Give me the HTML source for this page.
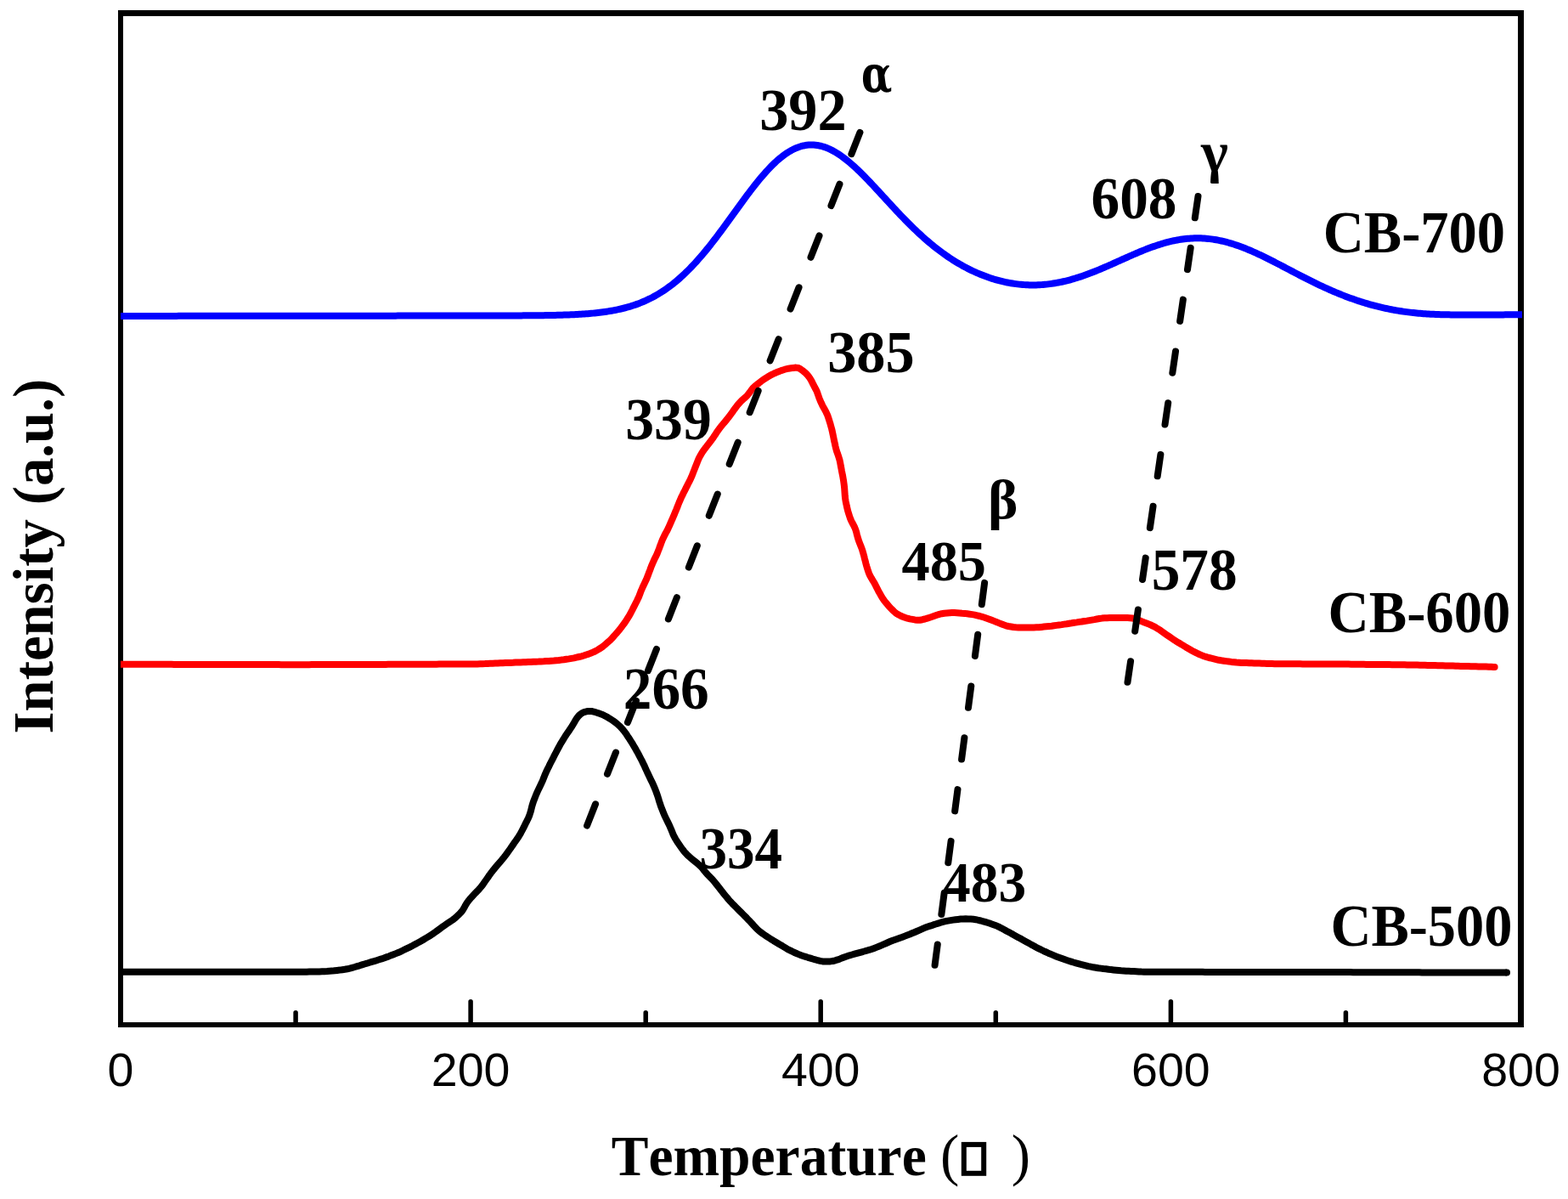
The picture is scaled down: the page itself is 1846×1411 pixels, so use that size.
<!DOCTYPE html>
<html><head><meta charset="utf-8"><title>TPR chart</title>
<style>
html,body{margin:0;padding:0;background:#fff;overflow:hidden;}
svg{display:block;}
text{font-family:"Liberation Serif","Times New Roman",serif;font-kerning:none;fill:#000;}
.sans{font-family:"Liberation Sans",Arial,sans-serif;}
</style></head><body>
<svg width="1846" height="1411" viewBox="0 0 1846 1411">
<rect x="0" y="0" width="1846" height="1411" fill="#fff"/>
<g fill="#000">
<rect x="139" y="12" width="6" height="1197"/>
<rect x="1787" y="12" width="7" height="1197"/>
<rect x="139" y="12" width="1655" height="7"/>
<rect x="139" y="1203" width="1655" height="6"/>
</g>
<g stroke="#000" stroke-width="5.5" stroke-linecap="round"><line x1="348.1" y1="1204" x2="348.1" y2="1191.75"/><line x1="554.1" y1="1204" x2="554.1" y2="1178.75"/><line x1="760.2" y1="1204" x2="760.2" y2="1191.75"/><line x1="966.2" y1="1204" x2="966.2" y2="1178.75"/><line x1="1172.3" y1="1204" x2="1172.3" y2="1191.75"/><line x1="1378.4" y1="1204" x2="1378.4" y2="1178.75"/><line x1="1584.4" y1="1204" x2="1584.4" y2="1191.75"/></g>
<text class="sans" x="142.0" y="1277.6" text-anchor="middle" font-size="55.5">0</text><text class="sans" x="554.1" y="1277.6" text-anchor="middle" font-size="55.5">200</text><text class="sans" x="966.2" y="1277.6" text-anchor="middle" font-size="55.5">400</text><text class="sans" x="1378.4" y="1277.6" text-anchor="middle" font-size="55.5">600</text><text class="sans" x="1790.5" y="1277.6" text-anchor="middle" font-size="55.5">800</text>
<path d="M142.0,371.94 L144.0,371.94 L146.0,371.94 L148.0,371.93 L150.0,371.93 L152.0,371.93 L154.0,371.93 L156.0,371.93 L158.0,371.92 L160.0,371.92 L162.0,371.92 L164.0,371.92 L166.0,371.92 L168.0,371.91 L170.0,371.91 L172.0,371.91 L174.0,371.91 L176.0,371.91 L178.0,371.90 L180.0,371.90 L182.0,371.90 L184.0,371.90 L186.0,371.90 L188.0,371.89 L190.0,371.89 L192.0,371.89 L194.0,371.89 L196.0,371.89 L198.0,371.88 L200.0,371.88 L202.0,371.88 L204.0,371.88 L206.0,371.88 L208.0,371.88 L210.0,371.87 L212.0,371.87 L214.0,371.87 L216.0,371.87 L218.0,371.87 L220.0,371.86 L222.0,371.86 L224.0,371.86 L226.0,371.86 L228.0,371.86 L230.0,371.85 L232.0,371.85 L234.0,371.85 L236.0,371.85 L238.0,371.85 L240.0,371.84 L242.0,371.84 L244.0,371.84 L246.0,371.84 L248.0,371.84 L250.0,371.83 L252.0,371.83 L254.0,371.83 L256.0,371.83 L258.0,371.83 L260.0,371.83 L262.0,371.82 L264.0,371.82 L266.0,371.82 L268.0,371.82 L270.0,371.82 L272.0,371.81 L274.0,371.81 L276.0,371.81 L278.0,371.81 L280.0,371.81 L282.0,371.80 L284.0,371.80 L286.0,371.80 L288.0,371.80 L290.0,371.80 L292.0,371.79 L294.0,371.79 L296.0,371.79 L298.0,371.79 L300.0,371.79 L302.0,371.78 L304.0,371.78 L306.0,371.78 L308.0,371.78 L310.0,371.78 L312.0,371.78 L314.0,371.77 L316.0,371.77 L318.0,371.77 L320.0,371.77 L322.0,371.77 L324.0,371.76 L326.0,371.76 L328.0,371.76 L330.0,371.76 L332.0,371.76 L334.0,371.75 L336.0,371.75 L338.0,371.75 L340.0,371.75 L342.0,371.75 L344.0,371.74 L346.0,371.74 L348.0,371.74 L350.0,371.74 L352.0,371.74 L354.0,371.73 L356.0,371.73 L358.0,371.73 L360.0,371.73 L362.0,371.73 L364.0,371.72 L366.0,371.72 L368.0,371.72 L370.0,371.72 L372.0,371.72 L374.0,371.72 L376.0,371.71 L378.0,371.71 L380.0,371.71 L382.0,371.71 L384.0,371.71 L386.0,371.70 L388.0,371.70 L390.0,371.70 L392.0,371.70 L394.0,371.70 L396.0,371.69 L398.0,371.69 L400.0,371.69 L402.0,371.69 L404.0,371.69 L406.0,371.68 L408.0,371.68 L410.0,371.68 L412.0,371.68 L414.0,371.68 L416.0,371.67 L418.0,371.67 L420.0,371.67 L422.0,371.67 L424.0,371.67 L426.0,371.67 L428.0,371.66 L430.0,371.66 L432.0,371.66 L434.0,371.66 L436.0,371.66 L438.0,371.65 L440.0,371.65 L442.0,371.65 L444.0,371.65 L446.0,371.65 L448.0,371.64 L450.0,371.64 L452.0,371.64 L454.0,371.64 L456.0,371.64 L458.0,371.63 L460.0,371.63 L462.0,371.63 L464.0,371.63 L466.0,371.63 L468.0,371.62 L470.0,371.62 L472.0,371.62 L474.0,371.62 L476.0,371.62 L478.0,371.61 L480.0,371.61 L482.0,371.61 L484.0,371.61 L486.0,371.61 L488.0,371.61 L490.0,371.60 L492.0,371.60 L494.0,371.60 L496.0,371.60 L498.0,371.60 L500.0,371.59 L502.0,371.59 L504.0,371.59 L506.0,371.59 L508.0,371.59 L510.0,371.58 L512.0,371.58 L514.0,371.58 L516.0,371.58 L518.0,371.58 L520.0,371.57 L522.0,371.57 L524.0,371.57 L526.0,371.57 L528.0,371.57 L530.0,371.56 L532.0,371.56 L534.0,371.56 L536.0,371.56 L538.0,371.55 L540.0,371.55 L542.0,371.55 L544.0,371.55 L546.0,371.55 L548.0,371.54 L550.0,371.54 L552.0,371.54 L554.0,371.54 L556.0,371.53 L558.0,371.53 L560.0,371.53 L562.0,371.52 L564.0,371.52 L566.0,371.52 L568.0,371.52 L570.0,371.51 L572.0,371.51 L574.0,371.51 L576.0,371.50 L578.0,371.50 L580.0,371.49 L582.0,371.49 L584.0,371.49 L586.0,371.48 L588.0,371.48 L590.0,371.47 L592.0,371.47 L594.0,371.46 L596.0,371.45 L598.0,371.45 L600.0,371.44 L602.0,371.43 L604.0,371.43 L606.0,371.42 L608.0,371.41 L610.0,371.40 L612.0,371.39 L614.0,371.38 L616.0,371.37 L618.0,371.36 L620.0,371.34 L622.0,371.33 L624.0,371.31 L626.0,371.30 L628.0,371.28 L630.0,371.26 L632.0,371.24 L634.0,371.22 L636.0,371.20 L638.0,371.17 L640.0,371.14 L642.0,371.12 L644.0,371.08 L646.0,371.05 L648.0,371.02 L650.0,370.98 L652.0,370.94 L654.0,370.89 L656.0,370.85 L658.0,370.79 L660.0,370.74 L662.0,370.68 L664.0,370.62 L666.0,370.55 L668.0,370.48 L670.0,370.41 L672.0,370.33 L674.0,370.24 L676.0,370.15 L678.0,370.05 L680.0,369.94 L682.0,369.83 L684.0,369.71 L686.0,369.58 L688.0,369.45 L690.0,369.30 L692.0,369.15 L694.0,368.99 L696.0,368.81 L698.0,368.63 L700.0,368.43 L702.0,368.23 L704.0,368.01 L706.0,367.78 L708.0,367.53 L710.0,367.27 L712.0,366.99 L714.0,366.70 L716.0,366.39 L718.0,366.07 L720.0,365.73 L722.0,365.37 L724.0,364.99 L726.0,364.58 L728.0,364.16 L730.0,363.72 L732.0,363.25 L734.0,362.76 L736.0,362.25 L738.0,361.71 L740.0,361.14 L742.0,360.55 L744.0,359.93 L746.0,359.28 L748.0,358.60 L750.0,357.89 L752.0,357.14 L754.0,356.37 L756.0,355.56 L758.0,354.71 L760.0,353.84 L762.0,352.92 L764.0,351.97 L766.0,350.98 L768.0,349.95 L770.0,348.88 L772.0,347.77 L774.0,346.62 L776.0,345.43 L778.0,344.19 L780.0,342.91 L782.0,341.59 L784.0,340.22 L786.0,338.81 L788.0,337.35 L790.0,335.85 L792.0,334.30 L794.0,332.70 L796.0,331.06 L798.0,329.37 L800.0,327.63 L802.0,325.85 L804.0,324.01 L806.0,322.14 L808.0,320.21 L810.0,318.24 L812.0,316.22 L814.0,314.16 L816.0,312.05 L818.0,309.90 L820.0,307.70 L822.0,305.46 L824.0,303.18 L826.0,300.86 L828.0,298.49 L830.0,296.09 L832.0,293.66 L834.0,291.18 L836.0,288.68 L838.0,286.14 L840.0,283.57 L842.0,280.97 L844.0,278.34 L846.0,275.69 L848.0,273.02 L850.0,270.33 L852.0,267.61 L854.0,264.89 L856.0,262.15 L858.0,259.39 L860.0,256.64 L862.0,253.87 L864.0,251.10 L866.0,248.34 L868.0,245.57 L870.0,242.81 L872.0,240.06 L874.0,237.33 L876.0,234.61 L878.0,231.90 L880.0,229.22 L882.0,226.56 L884.0,223.93 L886.0,221.33 L888.0,218.77 L890.0,216.24 L892.0,213.75 L894.0,211.31 L896.0,208.91 L898.0,206.56 L900.0,204.27 L902.0,202.03 L904.0,199.84 L906.0,197.72 L908.0,195.66 L910.0,193.67 L912.0,191.75 L914.0,189.89 L916.0,188.11 L918.0,186.41 L920.0,184.79 L922.0,183.24 L924.0,181.77 L926.0,180.39 L928.0,179.10 L930.0,177.89 L932.0,176.77 L934.0,175.73 L936.0,174.79 L938.0,173.94 L940.0,173.18 L942.0,172.51 L944.0,171.94 L946.0,171.45 L948.0,171.07 L950.0,170.77 L952.0,170.57 L954.0,170.46 L956.0,170.45 L958.0,170.52 L960.0,170.69 L962.0,170.95 L964.0,171.30 L966.0,171.73 L968.0,172.25 L970.0,172.86 L972.0,173.56 L974.0,174.33 L976.0,175.19 L978.0,176.12 L980.0,177.13 L982.0,178.22 L984.0,179.38 L986.0,180.61 L988.0,181.91 L990.0,183.28 L992.0,184.71 L994.0,186.20 L996.0,187.75 L998.0,189.35 L1000.0,191.01 L1002.0,192.72 L1004.0,194.48 L1006.0,196.28 L1008.0,198.13 L1010.0,200.02 L1012.0,201.94 L1014.0,203.90 L1016.0,205.89 L1018.0,207.91 L1020.0,209.96 L1022.0,212.03 L1024.0,214.13 L1026.0,216.24 L1028.0,218.37 L1030.0,220.51 L1032.0,222.67 L1034.0,224.83 L1036.0,227.01 L1038.0,229.18 L1040.0,231.36 L1042.0,233.54 L1044.0,235.72 L1046.0,237.90 L1048.0,240.07 L1050.0,242.23 L1052.0,244.39 L1054.0,246.53 L1056.0,248.66 L1058.0,250.78 L1060.0,252.89 L1062.0,254.97 L1064.0,257.04 L1066.0,259.10 L1068.0,261.13 L1070.0,263.14 L1072.0,265.13 L1074.0,267.09 L1076.0,269.03 L1078.0,270.95 L1080.0,272.84 L1082.0,274.71 L1084.0,276.55 L1086.0,278.36 L1088.0,280.15 L1090.0,281.90 L1092.0,283.63 L1094.0,285.33 L1096.0,287.01 L1098.0,288.65 L1100.0,290.26 L1102.0,291.84 L1104.0,293.40 L1106.0,294.92 L1108.0,296.42 L1110.0,297.88 L1112.0,299.32 L1114.0,300.72 L1116.0,302.10 L1118.0,303.45 L1120.0,304.76 L1122.0,306.05 L1124.0,307.31 L1126.0,308.54 L1128.0,309.74 L1130.0,310.91 L1132.0,312.05 L1134.0,313.17 L1136.0,314.25 L1138.0,315.31 L1140.0,316.34 L1142.0,317.34 L1144.0,318.31 L1146.0,319.26 L1148.0,320.17 L1150.0,321.07 L1152.0,321.93 L1154.0,322.76 L1156.0,323.57 L1158.0,324.35 L1160.0,325.11 L1162.0,325.84 L1164.0,326.54 L1166.0,327.21 L1168.0,327.86 L1170.0,328.48 L1172.0,329.07 L1174.0,329.64 L1176.0,330.18 L1178.0,330.70 L1180.0,331.19 L1182.0,331.65 L1184.0,332.09 L1186.0,332.50 L1188.0,332.88 L1190.0,333.23 L1192.0,333.56 L1194.0,333.87 L1196.0,334.15 L1198.0,334.40 L1200.0,334.62 L1202.0,334.82 L1204.0,334.99 L1206.0,335.13 L1208.0,335.25 L1210.0,335.34 L1212.0,335.41 L1214.0,335.45 L1216.0,335.46 L1218.0,335.45 L1220.0,335.41 L1222.0,335.34 L1224.0,335.25 L1226.0,335.13 L1228.0,334.98 L1230.0,334.81 L1232.0,334.62 L1234.0,334.39 L1236.0,334.15 L1238.0,333.87 L1240.0,333.57 L1242.0,333.25 L1244.0,332.90 L1246.0,332.53 L1248.0,332.14 L1250.0,331.72 L1252.0,331.27 L1254.0,330.81 L1256.0,330.32 L1258.0,329.81 L1260.0,329.27 L1262.0,328.72 L1264.0,328.14 L1266.0,327.54 L1268.0,326.92 L1270.0,326.29 L1272.0,325.63 L1274.0,324.96 L1276.0,324.26 L1278.0,323.55 L1280.0,322.82 L1282.0,322.08 L1284.0,321.32 L1286.0,320.55 L1288.0,319.76 L1290.0,318.96 L1292.0,318.15 L1294.0,317.32 L1296.0,316.49 L1298.0,315.64 L1300.0,314.78 L1302.0,313.92 L1304.0,313.05 L1306.0,312.17 L1308.0,311.29 L1310.0,310.40 L1312.0,309.51 L1314.0,308.61 L1316.0,307.71 L1318.0,306.81 L1320.0,305.91 L1322.0,305.02 L1324.0,304.12 L1326.0,303.23 L1328.0,302.34 L1330.0,301.45 L1332.0,300.57 L1334.0,299.70 L1336.0,298.84 L1338.0,297.98 L1340.0,297.13 L1342.0,296.30 L1344.0,295.48 L1346.0,294.66 L1348.0,293.87 L1350.0,293.08 L1352.0,292.32 L1354.0,291.57 L1356.0,290.83 L1358.0,290.12 L1360.0,289.42 L1362.0,288.75 L1364.0,288.09 L1366.0,287.46 L1368.0,286.85 L1370.0,286.26 L1372.0,285.69 L1374.0,285.15 L1376.0,284.64 L1378.0,284.15 L1380.0,283.69 L1382.0,283.26 L1384.0,282.85 L1386.0,282.47 L1388.0,282.12 L1390.0,281.80 L1392.0,281.51 L1394.0,281.25 L1396.0,281.02 L1398.0,280.82 L1400.0,280.65 L1402.0,280.52 L1404.0,280.41 L1406.0,280.34 L1408.0,280.30 L1410.0,280.29 L1412.0,280.31 L1414.0,280.37 L1416.0,280.45 L1418.0,280.57 L1420.0,280.72 L1422.0,280.91 L1424.0,281.12 L1426.0,281.37 L1428.0,281.65 L1430.0,281.96 L1432.0,282.30 L1434.0,282.67 L1436.0,283.07 L1438.0,283.50 L1440.0,283.95 L1442.0,284.44 L1444.0,284.96 L1446.0,285.50 L1448.0,286.07 L1450.0,286.67 L1452.0,287.29 L1454.0,287.94 L1456.0,288.62 L1458.0,289.31 L1460.0,290.04 L1462.0,290.78 L1464.0,291.55 L1466.0,292.33 L1468.0,293.14 L1470.0,293.97 L1472.0,294.81 L1474.0,295.68 L1476.0,296.56 L1478.0,297.46 L1480.0,298.37 L1482.0,299.30 L1484.0,300.24 L1486.0,301.19 L1488.0,302.16 L1490.0,303.14 L1492.0,304.13 L1494.0,305.13 L1496.0,306.13 L1498.0,307.15 L1500.0,308.17 L1502.0,309.20 L1504.0,310.23 L1506.0,311.27 L1508.0,312.32 L1510.0,313.36 L1512.0,314.41 L1514.0,315.46 L1516.0,316.51 L1518.0,317.56 L1520.0,318.61 L1522.0,319.66 L1524.0,320.70 L1526.0,321.75 L1528.0,322.79 L1530.0,323.82 L1532.0,324.86 L1534.0,325.88 L1536.0,326.91 L1538.0,327.92 L1540.0,328.93 L1542.0,329.93 L1544.0,330.92 L1546.0,331.91 L1548.0,332.89 L1550.0,333.86 L1552.0,334.82 L1554.0,335.77 L1556.0,336.70 L1558.0,337.63 L1560.0,338.55 L1562.0,339.46 L1564.0,340.36 L1566.0,341.24 L1568.0,342.11 L1570.0,342.98 L1572.0,343.83 L1574.0,344.66 L1576.0,345.49 L1578.0,346.30 L1580.0,347.10 L1582.0,347.88 L1584.0,348.66 L1586.0,349.42 L1588.0,350.16 L1590.0,350.89 L1592.0,351.61 L1594.0,352.32 L1596.0,353.01 L1598.0,353.69 L1600.0,354.35 L1602.0,355.00 L1604.0,355.64 L1606.0,356.26 L1608.0,356.87 L1610.0,357.46 L1612.0,358.04 L1614.0,358.60 L1616.0,359.15 L1618.0,359.69 L1620.0,360.21 L1622.0,360.71 L1624.0,361.21 L1626.0,361.68 L1628.0,362.15 L1630.0,362.60 L1632.0,363.03 L1634.0,363.45 L1636.0,363.86 L1638.0,364.25 L1640.0,364.62 L1642.0,364.99 L1644.0,365.34 L1646.0,365.67 L1648.0,365.99 L1650.0,366.30 L1652.0,366.59 L1654.0,366.87 L1656.0,367.14 L1658.0,367.40 L1660.0,367.64 L1662.0,367.87 L1664.0,368.09 L1666.0,368.29 L1668.0,368.48 L1670.0,368.67 L1672.0,368.84 L1674.0,369.00 L1676.0,369.15 L1678.0,369.29 L1680.0,369.42 L1682.0,369.54 L1684.0,369.65 L1686.0,369.75 L1688.0,369.84 L1690.0,369.93 L1692.0,370.01 L1694.0,370.08 L1696.0,370.14 L1698.0,370.20 L1700.0,370.25 L1702.0,370.30 L1704.0,370.34 L1706.0,370.37 L1708.0,370.40 L1710.0,370.43 L1712.0,370.45 L1714.0,370.47 L1716.0,370.48 L1718.0,370.50 L1720.0,370.50 L1722.0,370.51 L1724.0,370.52 L1726.0,370.52 L1728.0,370.52 L1730.0,370.52 L1732.0,370.51 L1734.0,370.51 L1736.0,370.50 L1738.0,370.50 L1740.0,370.49 L1742.0,370.48 L1744.0,370.48 L1746.0,370.47 L1748.0,370.46 L1750.0,370.45 L1752.0,370.44 L1754.0,370.43 L1756.0,370.43 L1758.0,370.42 L1760.0,370.41 L1762.0,370.40 L1764.0,370.40 L1766.0,370.39 L1768.0,370.38 L1770.0,370.38 L1772.0,370.37 L1774.0,370.36 L1776.0,370.36 L1778.0,370.35 L1780.0,370.35 L1782.0,370.34 L1784.0,370.34 L1786.0,370.34 L1788.0,370.33 L1790.0,370.33 L1792.0,370.33" fill="none" stroke="#0000ff" stroke-width="8" stroke-linejoin="round"/>
<path d="M142.0,781.7 L145.0,781.7 L148.0,781.7 L151.0,781.7 L154.0,781.7 L157.0,781.7 L160.0,781.7 L163.0,781.8 L166.0,781.8 L169.0,781.8 L172.0,781.8 L175.0,781.8 L178.0,781.8 L181.0,781.8 L184.0,781.8 L187.0,781.8 L190.0,781.8 L193.0,781.8 L196.0,781.8 L199.0,781.8 L202.0,781.8 L205.0,781.9 L208.0,781.9 L211.0,781.9 L214.0,781.9 L217.0,781.9 L220.0,781.9 L223.0,781.9 L226.0,781.9 L229.0,781.9 L232.0,781.9 L235.0,781.9 L238.0,781.9 L241.0,781.9 L244.0,781.9 L247.0,782.0 L250.0,782.0 L253.0,782.0 L256.0,782.0 L259.0,782.0 L262.0,782.0 L265.0,782.0 L268.0,782.0 L271.0,782.0 L274.0,782.0 L277.0,782.0 L280.0,782.0 L283.0,782.0 L286.0,782.0 L289.0,782.1 L292.0,782.1 L295.0,782.1 L298.0,782.1 L301.0,782.1 L304.0,782.1 L307.0,782.1 L310.0,782.1 L313.0,782.1 L316.0,782.1 L319.0,782.1 L322.0,782.1 L325.0,782.1 L328.0,782.1 L331.0,782.2 L334.0,782.2 L337.0,782.2 L340.0,782.2 L343.0,782.2 L346.0,782.2 L349.0,782.2 L352.0,782.2 L355.0,782.2 L358.0,782.2 L361.0,782.2 L364.0,782.2 L367.0,782.1 L370.0,782.1 L373.0,782.1 L376.0,782.1 L379.0,782.1 L382.0,782.1 L385.0,782.1 L388.0,782.1 L391.0,782.1 L394.0,782.1 L397.0,782.0 L400.0,782.0 L403.0,782.0 L406.0,782.0 L409.0,782.0 L412.0,782.0 L415.0,782.0 L418.0,782.0 L421.0,782.0 L424.0,782.0 L427.0,781.9 L430.0,781.9 L433.0,781.9 L436.0,781.9 L439.0,781.9 L442.0,781.9 L445.0,781.9 L448.0,781.9 L451.0,781.9 L454.0,781.9 L457.0,781.8 L460.0,781.8 L463.0,781.8 L466.0,781.8 L469.0,781.8 L472.0,781.8 L475.0,781.8 L478.0,781.8 L481.0,781.8 L484.0,781.8 L487.0,781.7 L490.0,781.7 L493.0,781.7 L496.0,781.7 L499.0,781.7 L502.0,781.7 L505.0,781.7 L508.0,781.7 L511.0,781.7 L514.0,781.7 L517.0,781.6 L520.0,781.6 L523.1,781.6 L526.1,781.6 L529.1,781.6 L532.1,781.6 L535.1,781.6 L538.1,781.6 L541.1,781.6 L544.1,781.6 L547.1,781.5 L550.1,781.5 L553.1,781.5 L556.1,781.5 L559.1,781.5 L562.1,781.4 L565.1,781.3 L568.0,781.2 L571.0,781.1 L574.0,780.9 L577.0,780.8 L580.0,780.7 L583.0,780.6 L586.0,780.5 L589.0,780.3 L592.0,780.2 L595.0,780.1 L598.0,780.0 L601.0,779.9 L604.0,779.8 L607.0,779.6 L610.0,779.5 L613.0,779.4 L616.0,779.3 L619.0,779.2 L622.0,779.1 L625.0,779.0 L628.0,778.8 L631.0,778.7 L634.0,778.6 L637.0,778.4 L640.0,778.3 L643.0,778.1 L646.0,778.0 L649.0,777.8 L652.0,777.6 L655.0,777.3 L657.9,777.0 L660.9,776.6 L663.9,776.3 L666.9,775.8 L669.8,775.4 L672.8,774.9 L675.8,774.4 L678.7,773.7 L681.6,773.0 L684.5,772.3 L687.4,771.5 L690.2,770.5 L693.1,769.6 L695.9,768.5 L698.7,767.4 L701.3,766.1 L703.9,764.6 L706.5,763.0 L709.0,761.4 L711.3,759.5 L713.6,757.6 L715.9,755.6 L718.1,753.6 L720.2,751.5 L722.2,749.3 L724.2,747.0 L726.2,744.8 L728.1,742.5 L730.0,740.2 L731.8,737.8 L733.6,735.4 L735.4,733.0 L737.1,730.5 L738.7,727.9 L740.3,725.4 L741.8,722.8 L743.2,720.2 L744.6,717.5 L745.9,714.8 L747.3,712.1 L748.6,709.5 L750.0,706.8 L751.3,704.1 L752.5,701.3 L753.6,698.5 L754.6,695.7 L755.8,693.0 L757.0,690.2 L758.3,687.5 L759.6,684.8 L760.9,682.1 L762.0,679.3 L763.1,676.5 L764.1,673.7 L765.2,670.9 L766.2,668.1 L767.3,665.3 L768.5,662.5 L769.7,659.8 L771.0,657.1 L772.3,654.4 L773.6,651.7 L774.7,648.9 L775.8,646.1 L776.8,643.3 L777.9,640.5 L778.9,637.7 L780.0,634.9 L781.3,632.2 L782.6,629.5 L784.0,626.9 L785.5,624.2 L786.8,621.5 L788.0,618.8 L789.2,616.1 L790.4,613.3 L791.7,610.6 L792.8,607.8 L794.0,605.1 L795.1,602.3 L796.3,599.5 L797.4,596.7 L798.5,593.9 L799.6,591.1 L800.8,588.4 L802.0,585.6 L803.3,582.9 L804.6,580.2 L806.0,577.6 L807.3,574.9 L808.7,572.2 L810.0,569.5 L811.4,566.8 L812.7,564.2 L814.0,561.4 L815.1,558.7 L816.2,555.9 L817.3,553.1 L818.4,550.3 L819.5,547.5 L820.6,544.7 L821.7,541.9 L822.9,539.2 L824.3,536.5 L825.8,533.9 L827.4,531.4 L829.1,529.0 L831.0,526.6 L832.8,524.2 L834.6,521.8 L836.4,519.5 L838.2,517.1 L840.0,514.6 L841.7,512.1 L843.3,509.6 L845.0,507.1 L846.7,504.7 L848.5,502.3 L850.4,500.0 L852.4,497.7 L854.3,495.4 L856.2,493.0 L858.0,490.7 L859.8,488.3 L861.6,485.9 L863.3,483.4 L865.1,481.0 L866.9,478.6 L868.7,476.2 L870.7,474.0 L872.8,471.8 L875.0,469.8 L877.2,467.9 L879.4,465.8 L881.3,463.5 L883.1,461.1 L884.8,458.7 L886.7,456.4 L888.9,454.4 L891.2,452.5 L893.6,450.7 L896.0,448.8 L898.4,447.1 L900.9,445.4 L903.4,443.8 L906.0,442.3 L908.6,440.8 L911.3,439.5 L914.0,438.3 L916.8,437.2 L919.6,436.1 L922.5,435.2 L925.3,434.3 L928.2,433.7 L931.2,433.3 L934.1,432.9 L937.0,432.6 L939.7,433.0 L942.3,434.2 L944.7,435.9 L947.0,437.8 L949.2,439.8 L951.2,442.0 L953.0,444.4 L954.6,446.9 L956.0,449.5 L957.3,452.2 L958.7,454.9 L960.1,457.5 L961.5,460.1 L962.5,462.9 L963.5,465.8 L964.5,468.6 L965.6,471.4 L966.8,474.1 L968.1,476.8 L969.5,479.5 L971.0,482.1 L972.4,484.7 L973.7,487.4 L974.8,490.2 L975.7,493.0 L976.6,495.9 L977.5,498.8 L978.3,501.7 L979.1,504.5 L979.8,507.5 L980.4,510.4 L981.0,513.3 L981.6,516.3 L982.2,519.2 L982.9,522.1 L983.5,525.1 L984.2,528.0 L985.0,530.9 L986.0,533.7 L987.0,536.5 L987.9,539.4 L988.7,542.2 L989.3,545.2 L989.8,548.1 L990.4,551.1 L990.9,554.0 L991.5,557.0 L992.1,559.9 L992.6,562.9 L993.1,565.8 L993.5,568.8 L993.9,571.8 L994.2,574.8 L994.4,577.7 L994.6,580.7 L994.8,583.7 L995.1,586.7 L995.6,589.7 L996.2,592.6 L996.8,595.5 L997.5,598.5 L998.2,601.4 L999.1,604.2 L1000.0,607.1 L1000.9,609.9 L1002.1,612.7 L1003.4,615.3 L1004.9,618.0 L1006.2,620.6 L1007.3,623.4 L1008.2,626.3 L1008.9,629.2 L1009.7,632.1 L1010.5,634.9 L1011.5,637.8 L1012.6,640.5 L1013.7,643.3 L1014.8,646.1 L1015.7,649.0 L1016.5,651.9 L1017.3,654.8 L1018.0,657.7 L1018.8,660.6 L1019.5,663.5 L1020.3,666.4 L1021.2,669.3 L1022.1,672.1 L1023.1,674.9 L1024.3,677.6 L1025.8,680.2 L1027.4,682.8 L1028.9,685.3 L1030.4,688.0 L1031.7,690.6 L1033.1,693.3 L1034.4,696.0 L1035.9,698.6 L1037.4,701.2 L1038.9,703.8 L1040.6,706.3 L1042.4,708.6 L1044.4,710.9 L1046.3,713.2 L1048.4,715.4 L1050.4,717.5 L1052.6,719.6 L1054.8,721.6 L1057.3,723.2 L1059.9,724.5 L1062.7,725.7 L1065.5,726.8 L1068.3,727.7 L1071.2,728.4 L1074.2,728.9 L1077.1,729.4 L1080.1,729.7 L1083.0,729.7 L1085.9,729.2 L1088.8,728.5 L1091.7,727.6 L1094.5,726.7 L1097.4,725.8 L1100.2,724.8 L1103.0,723.8 L1105.9,722.9 L1108.8,722.2 L1111.7,721.7 L1114.7,721.5 L1117.7,721.3 L1120.7,721.1 L1123.7,721.1 L1126.7,721.2 L1129.7,721.4 L1132.7,721.7 L1135.6,721.9 L1138.6,722.3 L1141.6,722.7 L1144.6,723.1 L1147.5,723.6 L1150.4,724.3 L1153.3,725.0 L1156.2,725.8 L1159.1,726.7 L1161.9,727.7 L1164.7,728.7 L1167.5,729.8 L1170.3,730.9 L1173.1,732.0 L1175.9,733.1 L1178.7,734.2 L1181.5,735.3 L1184.3,736.3 L1187.2,737.0 L1190.2,737.5 L1193.1,738.0 L1196.1,738.3 L1199.1,738.5 L1202.1,738.6 L1205.1,738.6 L1208.1,738.6 L1211.1,738.6 L1214.1,738.5 L1217.1,738.4 L1220.1,738.3 L1223.1,738.2 L1226.1,737.9 L1229.0,737.6 L1232.0,737.3 L1235.0,737.0 L1238.0,736.7 L1241.0,736.3 L1243.9,735.9 L1246.9,735.5 L1249.9,735.1 L1252.8,734.6 L1255.8,734.2 L1258.8,733.7 L1261.7,733.3 L1264.7,732.8 L1267.7,732.4 L1270.6,731.9 L1273.6,731.5 L1276.6,731.0 L1279.5,730.6 L1282.5,730.1 L1285.5,729.6 L1288.4,729.1 L1291.4,728.5 L1294.3,728.0 L1297.3,727.6 L1300.3,727.3 L1303.3,727.2 L1306.3,727.1 L1309.2,727.0 L1312.2,727.0 L1315.3,727.0 L1318.3,727.0 L1321.3,727.0 L1324.3,727.0 L1327.3,727.1 L1330.2,727.2 L1333.2,727.5 L1336.1,728.1 L1338.9,729.2 L1341.6,730.3 L1344.4,731.4 L1347.2,732.5 L1350.0,733.5 L1352.8,734.6 L1355.6,735.8 L1358.2,737.1 L1360.9,738.6 L1363.4,740.1 L1366.0,741.7 L1368.4,743.4 L1370.9,745.2 L1373.3,746.9 L1375.8,748.6 L1378.2,750.3 L1380.7,752.0 L1383.2,753.7 L1385.8,755.3 L1388.3,756.8 L1390.9,758.4 L1393.5,759.9 L1396.0,761.5 L1398.6,763.0 L1401.2,764.5 L1403.8,766.0 L1406.5,767.4 L1409.1,768.7 L1411.9,770.0 L1414.6,771.1 L1417.4,772.2 L1420.3,773.1 L1423.2,774.0 L1426.1,774.7 L1429.0,775.4 L1431.9,776.1 L1434.8,776.8 L1437.8,777.3 L1440.7,777.7 L1443.7,778.1 L1446.7,778.5 L1449.7,778.9 L1452.7,779.2 L1455.6,779.5 L1458.6,779.7 L1461.6,779.9 L1464.6,780.0 L1467.6,780.1 L1470.6,780.2 L1473.6,780.3 L1476.6,780.4 L1479.6,780.5 L1482.6,780.6 L1485.6,780.7 L1488.6,780.8 L1491.6,780.9 L1494.6,781.0 L1497.6,781.1 L1500.6,781.2 L1503.6,781.2 L1506.6,781.2 L1509.6,781.2 L1512.6,781.3 L1515.6,781.3 L1518.6,781.3 L1521.6,781.3 L1524.6,781.3 L1527.6,781.3 L1530.6,781.3 L1533.6,781.4 L1536.6,781.4 L1539.6,781.4 L1542.6,781.4 L1545.6,781.4 L1548.6,781.4 L1551.6,781.4 L1554.6,781.5 L1557.6,781.5 L1560.6,781.5 L1563.6,781.5 L1566.6,781.5 L1569.6,781.5 L1572.6,781.5 L1575.6,781.6 L1578.6,781.6 L1581.6,781.6 L1584.6,781.6 L1587.6,781.6 L1590.6,781.7 L1593.6,781.7 L1596.6,781.7 L1599.6,781.8 L1602.6,781.8 L1605.6,781.8 L1608.6,781.9 L1611.6,781.9 L1614.6,781.9 L1617.6,781.9 L1620.6,782.0 L1623.6,782.0 L1626.6,782.0 L1629.6,782.1 L1632.6,782.1 L1635.6,782.1 L1638.6,782.2 L1641.6,782.2 L1644.6,782.2 L1647.6,782.3 L1650.6,782.3 L1653.6,782.3 L1656.6,782.4 L1659.6,782.4 L1662.6,782.5 L1665.6,782.5 L1668.6,782.6 L1671.6,782.7 L1674.6,782.8 L1677.6,782.8 L1680.6,782.9 L1683.6,783.0 L1686.6,783.0 L1689.6,783.1 L1692.6,783.2 L1695.6,783.3 L1698.6,783.3 L1701.6,783.4 L1704.6,783.5 L1707.6,783.6 L1710.6,783.6 L1713.6,783.7 L1716.6,783.8 L1719.6,783.9 L1722.6,783.9 L1725.6,784.0 L1728.6,784.1 L1731.6,784.2 L1734.6,784.2 L1737.6,784.3 L1740.6,784.4 L1743.6,784.5 L1746.6,784.6 L1749.6,784.6 L1752.6,784.7 L1755.6,784.8 L1758.6,784.9 L1759.6,784.9" fill="none" stroke="#ff0000" stroke-width="8" stroke-linejoin="round"/>
<path d="M142.0,1143.8 L145.0,1143.8 L148.0,1143.8 L151.0,1143.8 L154.0,1143.8 L157.0,1143.8 L160.0,1143.8 L163.0,1143.8 L166.0,1143.8 L169.0,1143.8 L172.0,1143.8 L175.0,1143.8 L178.0,1143.8 L181.0,1143.8 L184.0,1143.8 L187.0,1143.8 L190.0,1143.8 L193.0,1143.8 L196.0,1143.8 L199.0,1143.8 L202.0,1143.8 L205.0,1143.8 L208.0,1143.8 L211.0,1143.8 L214.0,1143.8 L217.0,1143.8 L220.0,1143.8 L223.0,1143.8 L226.0,1143.8 L229.0,1143.8 L232.0,1143.8 L235.0,1143.8 L238.0,1143.8 L241.0,1143.8 L244.0,1143.8 L247.0,1143.8 L250.0,1143.8 L253.0,1143.7 L256.1,1143.7 L259.1,1143.7 L262.1,1143.7 L265.1,1143.7 L268.1,1143.7 L271.1,1143.7 L274.1,1143.7 L277.1,1143.7 L280.1,1143.7 L283.1,1143.7 L286.1,1143.7 L289.1,1143.7 L292.1,1143.7 L295.1,1143.7 L298.1,1143.7 L301.1,1143.7 L304.1,1143.7 L307.1,1143.7 L310.1,1143.7 L313.1,1143.7 L316.1,1143.7 L319.1,1143.7 L322.1,1143.7 L325.1,1143.7 L328.1,1143.7 L331.1,1143.7 L334.1,1143.7 L337.1,1143.7 L340.1,1143.7 L343.1,1143.7 L346.1,1143.7 L349.1,1143.7 L352.1,1143.7 L355.1,1143.7 L358.1,1143.7 L361.1,1143.7 L364.1,1143.6 L367.1,1143.6 L370.1,1143.5 L373.1,1143.4 L376.1,1143.4 L379.1,1143.3 L382.1,1143.2 L385.1,1143.1 L388.1,1142.8 L391.1,1142.6 L394.1,1142.2 L397.0,1141.9 L400.0,1141.6 L403.0,1141.2 L406.0,1140.8 L408.9,1140.3 L411.8,1139.6 L414.7,1138.8 L417.6,1138.0 L420.5,1137.1 L423.4,1136.3 L426.2,1135.4 L429.1,1134.5 L432.0,1133.7 L434.9,1132.8 L437.7,1131.9 L440.6,1131.1 L443.5,1130.2 L446.3,1129.3 L449.2,1128.4 L452.0,1127.4 L454.9,1126.4 L457.7,1125.4 L460.5,1124.3 L463.3,1123.2 L466.1,1122.1 L468.9,1121.0 L471.6,1119.8 L474.3,1118.5 L477.0,1117.2 L479.7,1115.9 L482.4,1114.6 L485.1,1113.2 L487.7,1111.8 L490.4,1110.4 L493.0,1108.9 L495.6,1107.5 L498.2,1106.0 L500.8,1104.4 L503.4,1102.9 L505.9,1101.3 L508.5,1099.7 L510.9,1098.0 L513.4,1096.3 L515.8,1094.5 L518.2,1092.7 L520.6,1090.9 L523.1,1089.2 L525.5,1087.5 L528.0,1085.8 L530.5,1084.2 L533.0,1082.5 L535.4,1080.6 L537.6,1078.7 L539.8,1076.6 L541.9,1074.5 L543.9,1072.3 L545.5,1069.8 L547.0,1067.2 L548.4,1064.6 L550.0,1062.1 L551.8,1059.7 L553.7,1057.4 L555.7,1055.2 L557.7,1053.0 L559.8,1050.8 L561.9,1048.7 L564.0,1046.5 L565.9,1044.2 L567.8,1041.9 L569.5,1039.4 L571.2,1037.0 L573.0,1034.5 L574.7,1032.1 L576.4,1029.6 L578.2,1027.2 L580.0,1024.8 L581.9,1022.4 L583.8,1020.1 L585.7,1017.9 L587.7,1015.6 L589.7,1013.3 L591.6,1011.0 L593.5,1008.7 L595.3,1006.3 L597.1,1003.9 L598.8,1001.5 L600.6,999.0 L602.3,996.5 L604.0,994.1 L605.7,991.6 L607.4,989.2 L609.1,986.7 L610.8,984.2 L612.4,981.7 L613.8,979.0 L615.2,976.4 L616.6,973.7 L617.9,971.0 L619.2,968.3 L620.6,965.6 L621.9,962.9 L623.1,960.2 L624.0,957.4 L624.9,954.5 L625.6,951.6 L626.3,948.7 L627.2,945.8 L628.1,943.0 L629.2,940.2 L630.3,937.4 L631.4,934.6 L632.6,931.9 L633.9,929.1 L635.2,926.4 L636.5,923.7 L637.8,921.0 L639.0,918.3 L640.1,915.5 L641.2,912.7 L642.4,909.9 L643.6,907.2 L644.9,904.5 L646.3,901.8 L647.6,899.1 L648.9,896.5 L650.3,893.8 L651.7,891.1 L653.0,888.4 L654.4,885.8 L655.8,883.1 L657.2,880.5 L658.7,877.8 L660.1,875.2 L661.7,872.6 L663.2,870.1 L664.8,867.5 L666.4,865.0 L668.1,862.5 L669.8,860.1 L671.5,857.6 L673.2,855.1 L674.7,852.5 L676.2,849.9 L677.7,847.3 L679.4,844.8 L681.2,842.5 L683.3,840.5 L685.7,838.9 L688.4,837.8 L691.3,837.1 L694.2,836.9 L697.1,837.1 L700.0,837.8 L702.8,838.7 L705.7,839.6 L708.5,840.7 L711.2,841.9 L713.8,843.3 L716.4,844.8 L719.0,846.4 L721.5,848.0 L723.9,849.8 L726.3,851.6 L728.5,853.6 L730.7,855.7 L732.7,857.9 L734.6,860.2 L736.4,862.6 L738.1,865.1 L739.7,867.6 L741.4,870.1 L743.0,872.6 L744.6,875.2 L746.1,877.7 L747.7,880.3 L749.1,882.9 L750.6,885.5 L752.0,888.2 L753.4,890.8 L754.8,893.5 L756.2,896.2 L757.5,898.9 L758.8,901.6 L760.0,904.3 L761.2,907.0 L762.5,909.8 L763.8,912.5 L765.1,915.2 L766.4,917.9 L767.7,920.6 L769.0,923.3 L770.2,926.1 L771.3,928.8 L772.4,931.6 L773.4,934.4 L774.4,937.3 L775.3,940.1 L776.1,943.0 L777.1,945.9 L778.0,948.7 L779.1,951.5 L780.2,954.3 L781.3,957.1 L782.5,959.8 L783.8,962.6 L785.1,965.3 L786.4,967.9 L787.7,970.6 L789.0,973.4 L790.1,976.1 L791.3,978.9 L792.4,981.7 L793.7,984.4 L795.1,987.0 L796.7,989.6 L798.3,992.1 L800.0,994.6 L801.7,997.0 L803.5,999.5 L805.3,1001.8 L807.3,1004.1 L809.3,1006.2 L811.6,1008.3 L813.8,1010.2 L816.1,1012.1 L818.5,1014.0 L820.8,1015.9 L823.1,1017.8 L825.2,1019.9 L827.2,1022.1 L829.0,1024.5 L830.9,1026.8 L832.9,1029.0 L835.0,1031.2 L837.1,1033.3 L839.2,1035.5 L841.1,1037.8 L843.0,1040.1 L844.9,1042.5 L846.7,1044.8 L848.6,1047.2 L850.4,1049.5 L852.3,1051.9 L854.2,1054.2 L856.1,1056.6 L858.0,1058.9 L860.0,1061.1 L862.1,1063.3 L864.2,1065.4 L866.3,1067.5 L868.4,1069.6 L870.6,1071.8 L872.7,1073.9 L874.8,1076.0 L876.9,1078.1 L879.0,1080.2 L881.1,1082.4 L883.2,1084.6 L885.2,1086.8 L887.2,1089.0 L889.3,1091.2 L891.3,1093.4 L893.5,1095.4 L895.9,1097.2 L898.3,1099.0 L900.8,1100.7 L903.3,1102.4 L905.8,1104.0 L908.3,1105.6 L910.9,1107.2 L913.5,1108.7 L916.0,1110.2 L918.6,1111.8 L921.2,1113.3 L923.8,1114.9 L926.3,1116.4 L929.0,1117.9 L931.6,1119.2 L934.3,1120.5 L937.1,1121.7 L939.8,1122.9 L942.6,1124.0 L945.4,1125.0 L948.3,1125.9 L951.2,1126.8 L954.1,1127.6 L956.9,1128.5 L959.8,1129.3 L962.7,1130.2 L965.6,1130.9 L968.5,1131.4 L971.5,1131.5 L974.5,1131.6 L977.5,1131.4 L980.4,1131.0 L983.3,1130.3 L986.1,1129.4 L988.9,1128.4 L991.7,1127.3 L994.5,1126.2 L997.4,1125.2 L1000.2,1124.3 L1003.1,1123.5 L1006.0,1122.7 L1008.9,1121.9 L1011.8,1121.1 L1014.7,1120.3 L1017.6,1119.5 L1020.5,1118.7 L1023.3,1117.8 L1026.2,1117.0 L1029.0,1116.0 L1031.8,1114.9 L1034.6,1113.8 L1037.4,1112.6 L1040.1,1111.4 L1042.9,1110.2 L1045.6,1109.0 L1048.4,1107.8 L1051.1,1106.7 L1054.0,1105.7 L1056.8,1104.7 L1059.6,1103.7 L1062.5,1102.7 L1065.3,1101.6 L1068.1,1100.5 L1070.9,1099.5 L1073.7,1098.3 L1076.4,1097.2 L1079.2,1096.0 L1081.9,1094.8 L1084.7,1093.6 L1087.4,1092.4 L1090.2,1091.3 L1093.1,1090.3 L1095.9,1089.4 L1098.7,1088.4 L1101.6,1087.5 L1104.5,1086.6 L1107.3,1085.7 L1110.2,1084.9 L1113.1,1084.2 L1116.1,1083.6 L1119.0,1083.1 L1122.0,1082.6 L1125.0,1082.2 L1127.9,1081.9 L1130.9,1081.6 L1133.9,1081.4 L1136.9,1081.3 L1139.9,1081.4 L1142.9,1081.6 L1145.9,1081.8 L1148.8,1082.2 L1151.8,1082.8 L1154.7,1083.5 L1157.6,1084.3 L1160.5,1085.1 L1163.3,1086.0 L1166.2,1086.9 L1169.0,1087.9 L1171.8,1088.9 L1174.6,1090.1 L1177.3,1091.4 L1179.9,1092.8 L1182.6,1094.2 L1185.2,1095.7 L1187.8,1097.1 L1190.5,1098.5 L1193.1,1100.0 L1195.7,1101.4 L1198.4,1102.9 L1201.0,1104.3 L1203.6,1105.8 L1206.2,1107.2 L1208.9,1108.7 L1211.5,1110.1 L1214.1,1111.6 L1216.8,1113.0 L1219.4,1114.5 L1222.0,1115.9 L1224.7,1117.2 L1227.4,1118.5 L1230.1,1119.8 L1232.9,1121.0 L1235.6,1122.3 L1238.4,1123.4 L1241.2,1124.6 L1243.9,1125.7 L1246.7,1126.7 L1249.6,1127.8 L1252.4,1128.8 L1255.2,1129.8 L1258.1,1130.7 L1260.9,1131.6 L1263.8,1132.5 L1266.7,1133.3 L1269.6,1134.1 L1272.5,1134.9 L1275.4,1135.6 L1278.3,1136.3 L1281.2,1137.1 L1284.1,1137.7 L1287.1,1138.3 L1290.1,1138.7 L1293.0,1139.2 L1296.0,1139.6 L1299.0,1140.0 L1301.9,1140.3 L1304.9,1140.7 L1307.9,1141.1 L1310.9,1141.4 L1313.9,1141.7 L1316.9,1142.0 L1319.8,1142.3 L1322.8,1142.5 L1325.8,1142.7 L1328.8,1142.8 L1331.8,1142.9 L1334.8,1143.0 L1337.8,1143.2 L1340.8,1143.4 L1343.8,1143.6 L1346.8,1143.7 L1349.8,1143.8 L1352.8,1143.8 L1355.8,1143.8 L1358.8,1143.8 L1361.8,1143.8 L1364.8,1143.8 L1367.8,1143.8 L1370.8,1143.8 L1373.8,1143.8 L1376.8,1143.8 L1379.8,1143.8 L1382.8,1143.8 L1385.8,1143.8 L1388.8,1143.8 L1391.8,1143.8 L1394.8,1143.8 L1397.8,1143.8 L1400.8,1143.8 L1403.8,1143.8 L1406.8,1143.8 L1409.8,1143.8 L1412.8,1143.8 L1415.8,1143.8 L1418.8,1143.9 L1421.8,1143.9 L1424.8,1143.9 L1427.8,1143.9 L1430.8,1143.9 L1433.8,1143.9 L1436.8,1143.9 L1439.9,1143.9 L1442.9,1143.9 L1445.9,1143.9 L1448.9,1143.9 L1451.9,1143.9 L1454.9,1143.9 L1457.9,1143.9 L1460.9,1143.9 L1463.9,1143.9 L1466.9,1143.9 L1469.9,1143.9 L1472.9,1143.9 L1475.9,1143.9 L1478.9,1143.9 L1481.9,1143.9 L1484.9,1143.9 L1487.9,1143.9 L1490.9,1143.9 L1493.9,1143.9 L1496.9,1143.9 L1499.9,1143.9 L1502.9,1143.9 L1505.9,1143.9 L1508.9,1143.9 L1511.9,1144.0 L1514.9,1144.0 L1517.9,1144.0 L1520.9,1144.0 L1523.9,1144.0 L1526.9,1144.0 L1529.9,1144.0 L1532.9,1144.0 L1535.9,1144.0 L1538.9,1144.0 L1541.9,1144.0 L1544.9,1144.0 L1547.9,1144.0 L1550.9,1144.1 L1553.9,1144.1 L1556.9,1144.1 L1559.9,1144.1 L1562.9,1144.1 L1565.9,1144.1 L1568.9,1144.1 L1571.9,1144.1 L1574.9,1144.1 L1577.9,1144.1 L1580.9,1144.1 L1583.9,1144.1 L1586.9,1144.1 L1589.9,1144.1 L1592.9,1144.2 L1595.9,1144.2 L1598.9,1144.2 L1601.9,1144.2 L1604.9,1144.2 L1607.9,1144.2 L1610.9,1144.2 L1613.9,1144.2 L1616.9,1144.2 L1619.9,1144.2 L1622.9,1144.2 L1625.9,1144.2 L1628.9,1144.2 L1631.9,1144.2 L1634.9,1144.3 L1637.9,1144.3 L1640.9,1144.3 L1643.9,1144.3 L1646.9,1144.3 L1649.9,1144.3 L1652.9,1144.3 L1655.9,1144.3 L1658.9,1144.3 L1662.0,1144.3 L1665.0,1144.3 L1668.0,1144.3 L1671.0,1144.3 L1674.0,1144.4 L1677.0,1144.4 L1680.0,1144.4 L1683.0,1144.4 L1686.0,1144.4 L1689.0,1144.4 L1692.0,1144.4 L1695.0,1144.4 L1698.0,1144.4 L1701.0,1144.4 L1704.0,1144.4 L1707.0,1144.4 L1710.0,1144.4 L1713.0,1144.4 L1716.0,1144.5 L1719.0,1144.5 L1722.0,1144.5 L1725.0,1144.5 L1728.0,1144.5 L1731.0,1144.5 L1734.0,1144.5 L1737.0,1144.5 L1740.0,1144.5 L1743.0,1144.5 L1746.0,1144.5 L1749.0,1144.5 L1752.0,1144.5 L1755.0,1144.6 L1758.0,1144.6 L1761.0,1144.6 L1764.0,1144.6 L1767.0,1144.6 L1770.0,1144.6 L1773.0,1144.6 L1774.0,1144.6" fill="none" stroke="#000000" stroke-width="8" stroke-linejoin="round"/>
<circle cx="1759.6" cy="784.9" r="4" fill="#ff0000"/>
<circle cx="1774" cy="1144.6" r="4" fill="#000"/>
<path d="M1012.4,155.9 L691.0,971.8" stroke="#000" stroke-width="8" stroke-linecap="round" fill="none" stroke-dasharray="27.19 38.16"/>
<path d="M1159.1,685.9 L1100.6,1135.8" stroke="#000" stroke-width="8" stroke-linecap="round" fill="none" stroke-dasharray="25.51 35.80"/>
<path d="M1410.5,231.0 L1327.5,802.8" stroke="#000" stroke-width="8" stroke-linecap="round" fill="none" stroke-dasharray="25.57 35.87"/>
<text transform="translate(894.13,152.92) scale(0.9884,1)" font-size="69.21" font-weight="bold">392</text>
<text transform="translate(1013.96,108.05) scale(0.7860,1)" font-size="60.13" font-weight="bold" style="font-family:'DejaVu Serif', serif">α</text>
<text transform="translate(1284.50,257.32) scale(0.9641,1)" font-size="69.80" font-weight="bold">608</text>
<text transform="translate(1413.97,202.29) scale(0.9960,1)" font-size="68.61" font-weight="bold">γ</text>
<text transform="translate(1557.85,296.61) scale(0.9467,1)" font-size="70.24" font-weight="bold">CB-700</text>
<text transform="translate(974.13,438.22) scale(0.9860,1)" font-size="69.35" font-weight="bold">385</text>
<text transform="translate(736.26,517.21) scale(0.9631,1)" font-size="70.25" font-weight="bold">339</text>
<text transform="translate(1163.09,609.95) scale(1.0264,1)" font-size="65.54" font-weight="bold">β</text>
<text transform="translate(1061.49,683.03) scale(0.9692,1)" font-size="68.46" font-weight="bold">485</text>
<text transform="translate(1355.70,693.72) scale(0.9691,1)" font-size="69.50" font-weight="bold">578</text>
<text transform="translate(1563.54,743.71) scale(0.9495,1)" font-size="70.24" font-weight="bold">CB-600</text>
<text transform="translate(733.77,834.21) scale(0.9585,1)" font-size="70.25" font-weight="bold">266</text>
<text transform="translate(823.55,1021.62) scale(0.9377,1)" font-size="69.36" font-weight="bold">334</text>
<text transform="translate(1110.11,1060.55) scale(0.9800,1)" font-size="66.69" font-weight="bold">483</text>
<text transform="translate(1566.46,1112.62) scale(0.9575,1)" font-size="69.35" font-weight="bold">CB-500</text>
<text transform="translate(719.78,1382.8) scale(0.9576,1)" font-size="68.4" font-weight="bold">Temperature</text>
<text x="1107.06" y="1382.45" font-size="66.94">(</text>
<text x="1190.74" y="1382.45" font-size="66.94">)</text>
<rect x="1134.8" y="1346.9" width="23.4" height="33.9" fill="none" stroke="#000" stroke-width="6"/>
<text transform="translate(62.0,863.45) rotate(-90) scale(0.9827,1)" font-size="68.0" font-weight="bold">Intensity (a.u.)</text>
</svg></body></html>
